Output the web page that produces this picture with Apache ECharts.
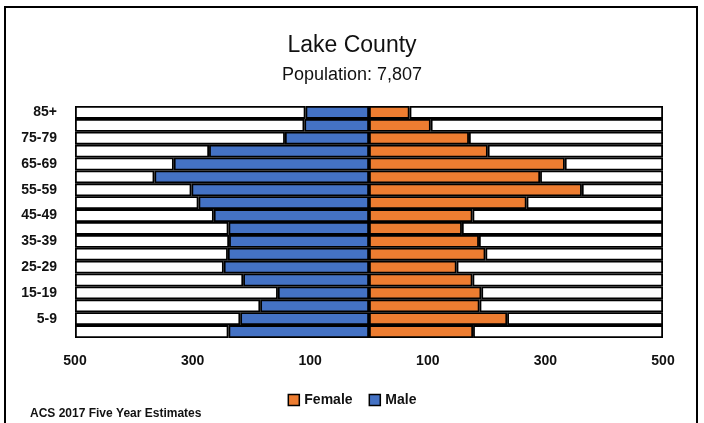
<!DOCTYPE html>
<html>
<head>
<meta charset="utf-8">
<script src="https://cdn.jsdelivr.net/npm/echarts@6/dist/echarts.min.js"></script>
<style>
html,body{margin:0;padding:0;background:#fff;}
#chart{width:704px;height:423px;}
</style>
</head>
<body>
<div id="chart"></div>
<script>
const ageGroups = ['0-4','5-9','10-14','15-19','20-24','25-29','30-34','35-39','40-44','45-49','50-54','55-59','60-64','65-69','70-74','75-79','80-84','85+'];
const maleValues = [239,219,185,155,214,247,240,238,239,264,290,302,365,332,272,143,110,108];
const femaleValues = [177,235,188,191,176,149,198,187,158,176,268,362,291,333,202,170,105,69];
const axisMax = 500;
const tickInterval = 200;

const chart = echarts.init(document.getElementById('chart'));
const border = {borderColor:'#000', borderWidth:1.8};
const font = 'Liberation Sans, Arial, sans-serif';

chart.setOption({
  animation:false,
  backgroundColor:'#fff',
  title:[
    {text:'Lake County', left:'center', top:29, textStyle:{fontFamily:font, fontSize:23, fontWeight:'normal', color:'#111'}},
    {text:'Population: 7,807', left:'center', top:61, textStyle:{fontFamily:font, fontSize:18, fontWeight:'normal', color:'#111'}},
    {text:'ACS 2017 Five Year Estimates', left:25, top:403, textStyle:{fontFamily:font, fontSize:12, fontWeight:'bold', color:'#111'}}
  ],
  graphic:[{type:'rect', shape:{x:5, y:7, width:692, height:440}, style:{fill:'none', stroke:'#000', lineWidth:2}, silent:true}],
  legend:{
    data:['Female','Male'], top:388, left:'center', itemWidth:11, itemHeight:11, itemGap:16,
    icon:'rect',
    textStyle:{fontFamily:font, fontSize:14, fontWeight:'bold', color:'#111'},
    itemStyle:{borderColor:'#000', borderWidth:1.5}
  },
  grid:{left:75, right:41, top:106, bottom:85, containLabel:false},
  xAxis:{
    type:'value', min:-axisMax, max:axisMax, interval:tickInterval,
    axisLabel:{formatter:v=>Math.abs(v), fontFamily:font, fontSize:14, fontWeight:'bold', color:'#111', margin:16},
    axisLine:{show:false}, axisTick:{show:false}, splitLine:{show:false}
  },
  yAxis:{
    type:'category', data:ageGroups,
    axisLabel:{interval:(i)=>i%2===1, fontFamily:font, fontSize:14, fontWeight:'bold', color:'#111', margin:18},
    axisLine:{show:false}, axisTick:{show:false}
  },
  series:[
    {name:'Male', type:'bar', stack:'pop', barCategoryGap:'0%', data:maleValues.map(v=>-v), itemStyle:Object.assign({color:'#4472C4'}, border)},
    {name:'MaleBg', type:'bar', stack:'pop', data:maleValues.map(v=>-(axisMax-v)), itemStyle:Object.assign({color:'#fff'}, border)},
    {name:'Female', type:'bar', stack:'pop', data:femaleValues, itemStyle:Object.assign({color:'#ED7D31'}, border)},
    {name:'FemaleBg', type:'bar', stack:'pop', data:femaleValues.map(v=>axisMax-v), itemStyle:Object.assign({color:'#fff'}, border)}
  ]
});
</script>
</body>
</html>
